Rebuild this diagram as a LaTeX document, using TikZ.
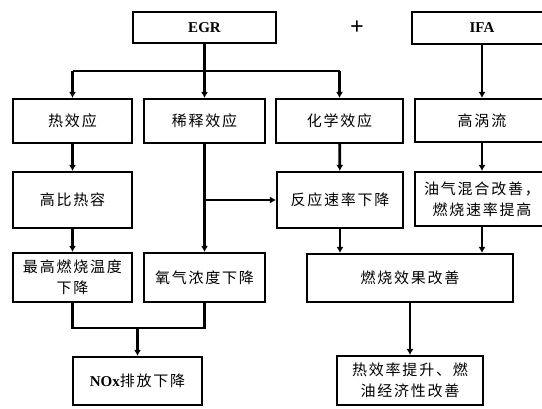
\documentclass[tikz,border=0pt]{standalone}
\usepackage{fontspec}
\setmainfont{Liberation Serif}
\newfontfamily\cjk[LetterSpace=12]{Noto Sans CJK SC}
\usetikzlibrary{arrows.meta}
\begin{document}
\begin{tikzpicture}[x=1pt,y=-1pt,
  box/.style={draw, line width=2.1pt, inner sep=0pt, align=center,
              font=\cjk\fontsize{15}{21}\selectfont},
  latinbox/.style={box, font=\fontsize{15}{18}\selectfont\bfseries},
  conn/.style={line width=2.8pt},
  arr/.style={conn, -{Latex[length=6pt,width=7pt]}}]
\useasboundingbox (0,0) rectangle (542,408);
\clip (0,0) rectangle (542,408);

\node[latinbox, minimum width=143pt, minimum height=31pt] (egr) at (204.5,27.5) {EGR};
\node[latinbox, minimum width=140pt, minimum height=32pt] (ifa) at (482,28) {IFA};
\node[font=\fontsize{24}{24}\selectfont\bfseries] (plus) at (357,28) {+};

\node[box, minimum width=119pt, minimum height=44pt] (heat) at (72.5,121) {热效应};
\node[box, minimum width=121pt, minimum height=44pt] (dilute) at (204.5,121) {稀释效应};
\node[box, minimum width=127pt, minimum height=44pt] (chem) at (339.5,121) {化学效应};
\node[box, minimum width=134pt, minimum height=43pt] (turb) at (482,120.5) {高涡流};

\node[box, minimum width=119pt, minimum height=56pt] (cap) at (72.5,200) {高比热容};
\node[box, minimum width=126pt, minimum height=56pt] (react) at (340,200) {反应速率下降};
\node[box, minimum width=134pt, minimum height=54pt] (mix) at (482,199) {油气混合改善，\\燃烧速率提高};

\node[box, minimum width=119pt, minimum height=49pt] (maxT) at (72.5,277.5) {最高燃烧温度\\下降};
\node[box, minimum width=121pt, minimum height=49pt] (oxy) at (204.5,277.5) {氧气浓度下降};
\node[box, minimum width=206pt, minimum height=48pt] (comb) at (410,278) {燃烧效果改善};

\node[box, minimum width=129pt, minimum height=48pt] (nox) at (137.5,381) {{\rmfamily\bfseries NOx}排放下降};
\node[box, minimum width=146pt, minimum height=49pt] (eff) at (410,380.5) {热效率提升、燃\\油经济性改善};

% EGR branches
\coordinate (bus) at (204.5,71);
\draw[conn] (egr.south) -- (bus);
\draw[conn] (heat.north |- bus) -- (chem.north |- bus);
\draw[arr] (heat.north |- bus) -- (heat.north);
\draw[arr] (bus) -- (dilute.north);
\draw[arr] (chem.north |- bus) -- (chem.north);
\draw[arr] (ifa) -- (turb);

\draw[arr] (heat) -- (cap);
\draw[arr] (cap) -- (maxT);
\draw[arr] (dilute) -- (oxy);
\draw[arr] (dilute.south |- react.west) -- (react.west);
\draw[arr] (chem) -- (react);
\draw[arr] (turb) -- (mix);
\draw[arr] (react.south) -- (react.south |- comb.north);
\draw[arr] (mix.south) -- (mix.south |- comb.north);
\draw[arr] (comb) -- (eff);

\coordinate (j) at (137.5,328);
\draw[conn] (maxT.south) |- (j) -| (oxy.south);
\draw[arr] (j) -- (nox);
\end{tikzpicture}
\end{document}
